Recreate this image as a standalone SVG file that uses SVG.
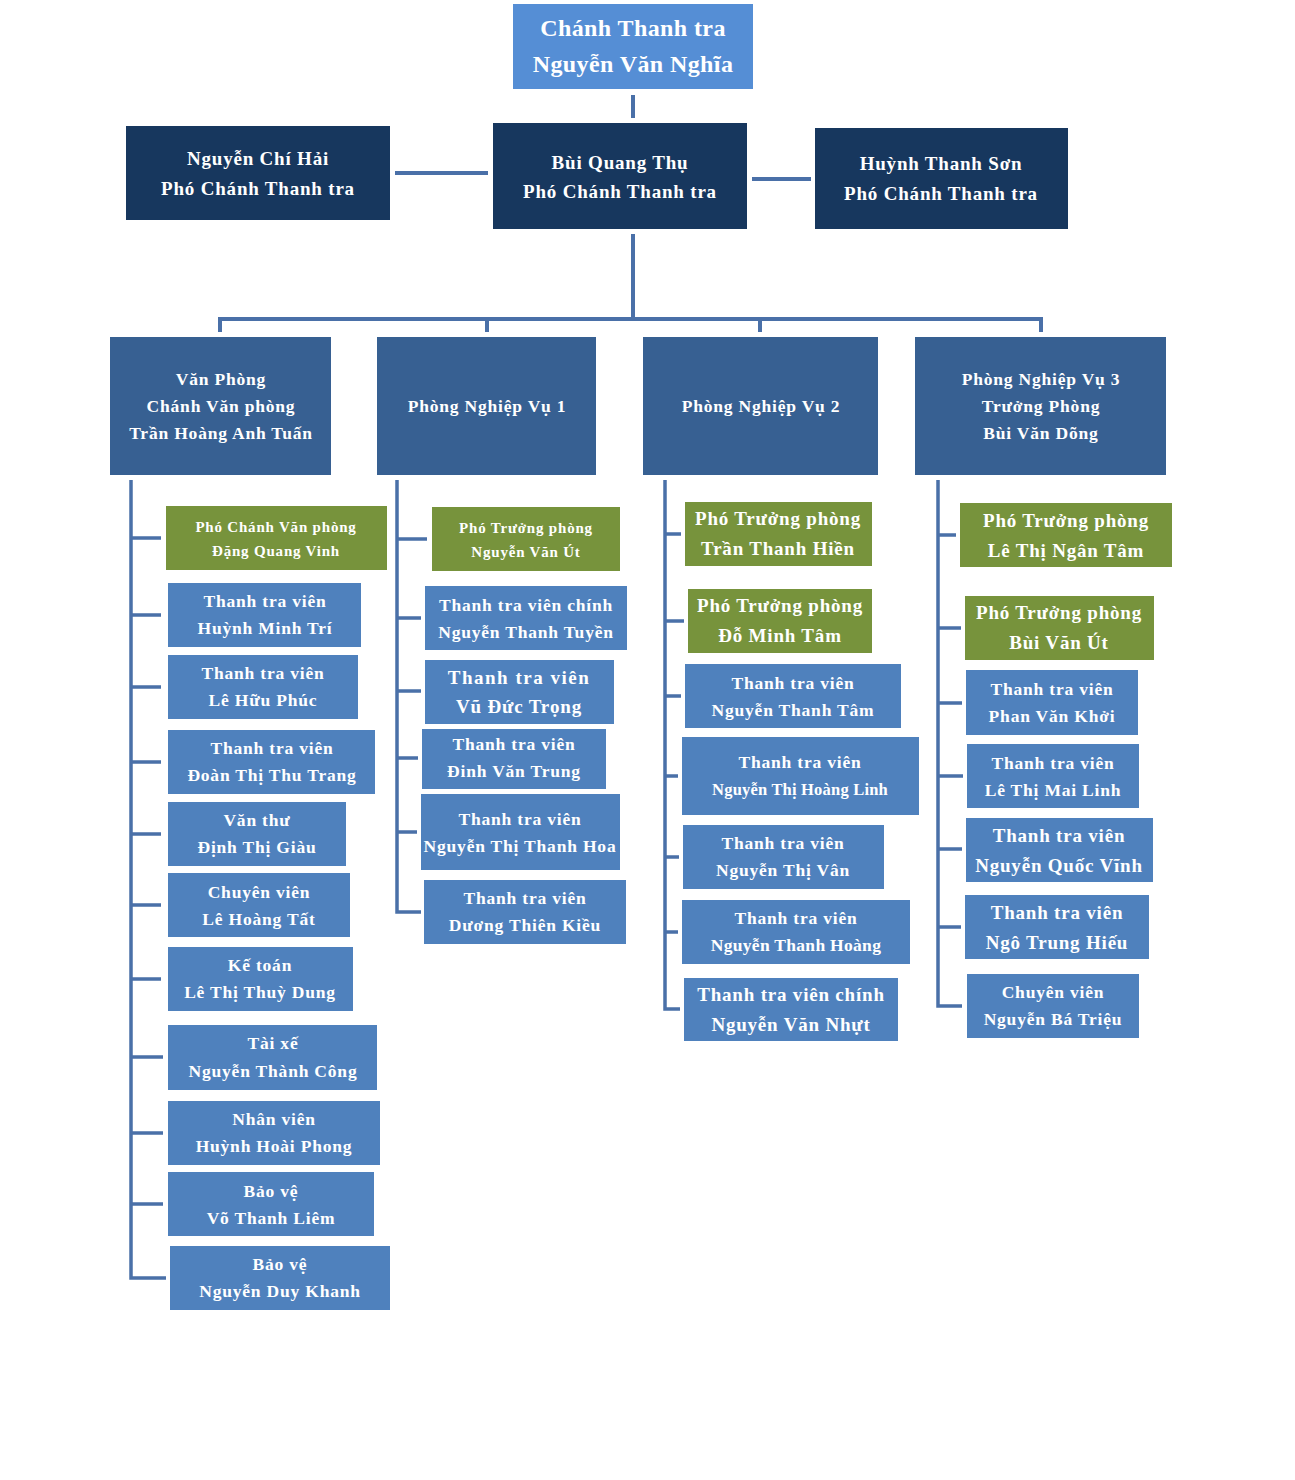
<svg xmlns="http://www.w3.org/2000/svg" width="1295" height="1480" viewBox="0 0 1295 1480">
<style>
.bg{fill:#ffffff}
.top{fill:#558ED5}
.navy{fill:#17375E}
.dept{fill:#376092}
.leaf{fill:#4F81BD}
.green{fill:#77933C}
text{font-family:"Liberation Serif","Times New Roman",serif;font-weight:bold;fill:#ffffff;text-anchor:middle;letter-spacing:0.8px}
.s24{font-size:24px;letter-spacing:0.4px}
.s19{font-size:19px}
.s17{font-size:17.5px}
.s16{font-size:16.5px}
.s15{font-size:15px}
.ln{stroke:#4A70A8;stroke-width:4;fill:none}
.vl{stroke:#4A70A8;stroke-width:3.5;fill:none}
</style>
<rect class="bg" x="0" y="0" width="1295" height="1480"/>
<g id="connectors">
<line class="ln" x1="633" y1="95" x2="633" y2="118"/>
<line class="ln" x1="395" y1="173" x2="488" y2="173"/>
<line class="ln" x1="752" y1="179" x2="811" y2="179"/>
<line class="ln" x1="633" y1="234" x2="633" y2="319"/>
<polyline class="ln" points="220,332 220,319 1041,319 1041,332"/>
<line class="ln" x1="487" y1="319" x2="487" y2="332"/>
<line class="ln" x1="760" y1="319" x2="760" y2="332"/>
<path class="vl" d="M131,480 V1278 H166 M131,538 H161 M131,615 H161 M131,687 H161 M131,762 H161 M131,834 H161 M131,905 H161 M131,979 H161 M131,1057 H163 M131,1133 H163 M131,1204 H163"/>
<path class="vl" d="M397,480 V912 H421 M397,539 H427 M397,618 H421 M397,691 H421 M397,758 H418 M397,832 H417"/>
<path class="vl" d="M665,480 V1009 H680 M665,534 H681 M665,621 H684 M665,696 H681 M665,776 H678 M665,857 H679 M665,932 H678"/>
<path class="vl" d="M938,480 V1006 H962 M938,535 H956 M938,628 H961 M938,703 H962 M938,776 H963 M938,849 H962 M938,927 H961"/>
</g>
<g id="chanh-thanh-tra"><rect class="top" x="513" y="4" width="240" height="85"/><text class="s24" x="633" y="36">Chánh Thanh tra</text><text class="s24" x="633" y="72">Nguyễn Văn Nghĩa</text></g>
<g id="nguyen-chi-hai"><rect class="navy" x="126" y="126" width="264" height="94"/><text class="s19" x="258" y="165">Nguyễn Chí Hải</text><text class="s19" x="258" y="195">Phó Chánh Thanh tra</text></g>
<g id="bui-quang-thu"><rect class="navy" x="493" y="123" width="254" height="106"/><text class="s19" x="620" y="169">Bùi Quang Thụ</text><text class="s19" x="620" y="198">Phó Chánh Thanh tra</text></g>
<g id="huynh-thanh-son"><rect class="navy" x="815" y="128" width="253" height="101"/><text class="s19" x="941" y="170">Huỳnh Thanh Sơn</text><text class="s19" x="941" y="200">Phó Chánh Thanh tra</text></g>
<g id="van-phong"><rect class="dept" x="110" y="337" width="221" height="138"/><text class="s17" x="221" y="385">Văn Phòng</text><text class="s17" x="221" y="412">Chánh Văn phòng</text><text class="s17" x="221" y="439">Trần Hoàng Anh Tuấn</text></g>
<g id="pnv1"><rect class="dept" x="377" y="337" width="219" height="138"/><text class="s17" x="487" y="412">Phòng Nghiệp Vụ 1</text></g>
<g id="pnv2"><rect class="dept" x="643" y="337" width="235" height="138"/><text class="s17" x="761" y="412">Phòng Nghiệp Vụ 2</text></g>
<g id="pnv3"><rect class="dept" x="915" y="337" width="251" height="138"/><text class="s17" x="1041" y="385">Phòng Nghiệp Vụ 3</text><text class="s17" x="1041" y="412">Trưởng Phòng</text><text class="s17" x="1041" y="439">Bùi Văn Dõng</text></g>

<g id="c1-1"><rect class="green" x="166" y="506" width="221" height="64"/><text class="s15" x="276" y="532">Phó Chánh Văn phòng</text><text class="s15" x="276" y="556">Đặng Quang Vinh</text></g>
<g id="c1-2"><rect class="leaf" x="168" y="583" width="193" height="64"/><text class="s17" x="265" y="607">Thanh tra viên</text><text class="s17" x="265" y="634">Huỳnh  Minh Trí</text></g>
<g id="c1-3"><rect class="leaf" x="168" y="655" width="190" height="64"/><text class="s17" x="263" y="679">Thanh tra viên</text><text class="s17" x="263" y="706">Lê Hữu Phúc</text></g>
<g id="c1-4"><rect class="leaf" x="168" y="730" width="207" height="64"/><text class="s17" x="272" y="754">Thanh tra viên</text><text class="s17" x="272" y="781">Đoàn Thị Thu Trang</text></g>
<g id="c1-5"><rect class="leaf" x="168" y="802" width="178" height="64"/><text class="s17" x="257" y="826">Văn thư</text><text class="s17" x="257" y="853">Định Thị Giàu</text></g>
<g id="c1-6"><rect class="leaf" x="168" y="873" width="182" height="64"/><text class="s17" x="259" y="898">Chuyên viên</text><text class="s17" x="259" y="925">Lê Hoàng Tất</text></g>
<g id="c1-7"><rect class="leaf" x="168" y="947" width="185" height="64"/><text class="s17" x="260" y="971">Kế toán</text><text class="s17" x="260" y="998">Lê Thị Thuỳ Dung</text></g>
<g id="c1-8"><rect class="leaf" x="168" y="1025" width="209" height="65"/><text class="s17" x="273" y="1049">Tài xế</text><text class="s17" x="273" y="1077">Nguyễn Thành Công</text></g>
<g id="c1-9"><rect class="leaf" x="168" y="1101" width="212" height="64"/><text class="s17" x="274" y="1125">Nhân viên</text><text class="s17" x="274" y="1152">Huỳnh  Hoài Phong</text></g>
<g id="c1-10"><rect class="leaf" x="168" y="1172" width="206" height="64"/><text class="s17" x="271" y="1197">Bảo vệ</text><text class="s17" x="271" y="1224">Võ  Thanh Liêm</text></g>
<g id="c1-11"><rect class="leaf" x="170" y="1246" width="220" height="64"/><text class="s17" x="280" y="1270">Bảo vệ</text><text class="s17" x="280" y="1297">Nguyễn Duy Khanh</text></g>

<g id="c2-1"><rect class="green" x="432" y="507" width="188" height="64"/><text class="s15" x="526" y="533">Phó Trưởng phòng</text><text class="s15" x="526" y="557">Nguyễn Văn Út</text></g>
<g id="c2-2"><rect class="leaf" x="425" y="586" width="202" height="64"/><text class="s17" x="526" y="611">Thanh tra viên chính</text><text class="s17" x="526" y="638">Nguyễn Thanh Tuyền</text></g>
<g id="c2-3"><rect class="leaf" x="425" y="660" width="189" height="64"/><text class="s19" x="519" y="684" style="letter-spacing:1.5px">Thanh tra viên</text><text class="s19" x="519" y="713">Vũ Đức Trọng</text></g>
<g id="c2-4"><rect class="leaf" x="422" y="729" width="184" height="60"/><text class="s17" x="514" y="750">Thanh tra viên</text><text class="s17" x="514" y="777">Đinh Văn Trung</text></g>
<g id="c2-5"><rect class="leaf" x="421" y="794" width="199" height="76"/><text class="s17" x="520" y="825">Thanh tra viên</text><text class="s17" x="520" y="852">Nguyễn Thị Thanh Hoa</text></g>
<g id="c2-6"><rect class="leaf" x="424" y="880" width="202" height="64"/><text class="s17" x="525" y="904">Thanh tra viên</text><text class="s17" x="525" y="931">Dương Thiên Kiều</text></g>

<g id="c3-1"><rect class="green" x="685" y="502" width="187" height="64"/><text class="s19" x="778" y="525">Phó Trưởng phòng</text><text class="s19" x="778" y="555">Trần  Thanh  Hiền</text></g>
<g id="c3-2"><rect class="green" x="688" y="589" width="184" height="64"/><text class="s19" x="780" y="612">Phó Trưởng phòng</text><text class="s19" x="780" y="642">Đỗ Minh  Tâm</text></g>
<g id="c3-3"><rect class="leaf" x="685" y="664" width="216" height="64"/><text class="s17" x="793" y="689">Thanh tra viên</text><text class="s17" x="793" y="716">Nguyễn Thanh Tâm</text></g>
<g id="c3-4"><rect class="leaf" x="682" y="737" width="237" height="78"/><text class="s17" x="800" y="768">Thanh tra viên</text><text class="s16" x="800" y="795" style="letter-spacing:0.2px">Nguyễn  Thị Hoàng Linh</text></g>
<g id="c3-5"><rect class="leaf" x="683" y="825" width="201" height="64"/><text class="s17" x="783" y="849">Thanh tra viên</text><text class="s17" x="783" y="876">Nguyễn Thị Vân</text></g>
<g id="c3-6"><rect class="leaf" x="682" y="900" width="228" height="64"/><text class="s17" x="796" y="924">Thanh tra viên</text><text class="s17" x="796" y="951" style="letter-spacing:0.3px">Nguyễn Thanh Hoàng</text></g>
<g id="c3-7"><rect class="leaf" x="684" y="978" width="214" height="63"/><text class="s19" x="791" y="1001">Thanh  tra  viên chính</text><text class="s19" x="791" y="1031">Nguyễn Văn Nhựt</text></g>

<g id="c4-1"><rect class="green" x="960" y="503" width="212" height="64"/><text class="s19" x="1066" y="527">Phó Trưởng phòng</text><text class="s19" x="1066" y="557">Lê Thị  Ngân  Tâm</text></g>
<g id="c4-2"><rect class="green" x="965" y="596" width="189" height="64"/><text class="s19" x="1059" y="619">Phó Trưởng phòng</text><text class="s19" x="1059" y="649">Bùi Văn Út</text></g>
<g id="c4-3"><rect class="leaf" x="966" y="670" width="172" height="65"/><text class="s17" x="1052" y="695">Thanh tra viên</text><text class="s17" x="1052" y="722">Phan Văn Khởi</text></g>
<g id="c4-4"><rect class="leaf" x="967" y="744" width="172" height="64"/><text class="s17" x="1053" y="769">Thanh tra viên</text><text class="s17" x="1053" y="796">Lê Thị Mai Linh</text></g>
<g id="c4-5"><rect class="leaf" x="966" y="818" width="187" height="64"/><text class="s19" x="1059" y="842">Thanh  tra  viên</text><text class="s19" x="1059" y="872">Nguyễn Quốc Vĩnh</text></g>
<g id="c4-6"><rect class="leaf" x="965" y="895" width="184" height="64"/><text class="s19" x="1057" y="919">Thanh  tra  viên</text><text class="s19" x="1057" y="949">Ngô Trung  Hiếu</text></g>
<g id="c4-7"><rect class="leaf" x="967" y="974" width="172" height="64"/><text class="s17" x="1053" y="998">Chuyên viên</text><text class="s17" x="1053" y="1025">Nguyễn Bá Triệu</text></g>
</svg>
